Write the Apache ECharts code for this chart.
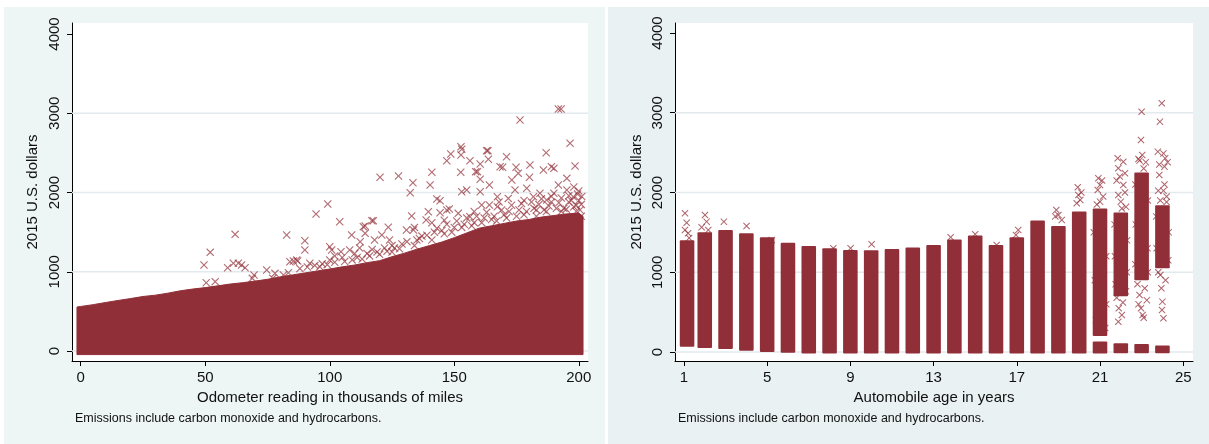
<!DOCTYPE html>
<html>
<head>
<meta charset="utf-8">
<script src="https://cdn.jsdelivr.net/npm/echarts@6/dist/echarts.min.js"></script>
<style>
  html, body { margin: 0; padding: 0; background: #fff; }
  #main { width: 1209px; height: 444px; }
</style>
</head>
<body>
<div id="main"></div>
<script>
// 数据：左图 = 里程，右图 = 车龄
const odometerTicks = [0, 50, 100, 150, 200]
const ageTicks = [1, 5, 9, 13, 17, 21, 25]
const dollarTicks = [0, 1000, 2000, 3000, 4000]
const gridValues = [0, 1000, 2000, 3000]

// 左图密集区的上边缘（千英里, 美元）
const odometerEdge = [-1.5, 0, 5, 10, 15, 20, 25, 30, 35, 40, 45, 50, 55, 60, 65, 70, 75, 80, 85, 90, 95, 100,
  105, 110, 115, 120, 125, 130, 135, 140, 145, 150, 155, 160, 165, 170, 175, 180, 185, 190, 195, 200, 201.7]
const bodyTop = [555, 562, 585, 612, 638, 662, 688, 705, 730, 760, 782, 800, 822, 845, 862, 882, 905, 935, 960, 985, 1010, 1035,
  1062, 1085, 1115, 1140, 1190, 1235, 1285, 1330, 1375, 1430, 1490, 1550, 1580, 1610, 1640, 1660, 1690, 1710, 1730, 1740, 1700]
const bodyFloor = -45

// 左图离群点 [里程, 美元]
const odometerOutliers = [
  [49.5, 1085], [52, 1245], [50.4, 862], [54, 875], [62, 1472], [59, 1051], [61.3, 1107], [63.3, 1107], [64.6, 1085],
  [66, 1051], [69.6, 959], [68.9, 917], [74.7, 1022], [78, 980], [77.1, 917], [82.7, 1464], [81.4, 959], [83.4, 988],
  [85.4, 1136], [87.1, 1136], [84, 1127], [86.7, 1148], [90, 1392], [90, 1274], [94.5, 1729], [99.2, 1855], [104, 1632],
  [100, 1316], [100.8, 1274], [104.5, 1253], [100, 1148], [108.8, 1464], [108, 1274], [112.2, 1379], [114.2, 1577],
  [114.2, 1485], [117.5, 1644], [120.2, 2192], [127.6, 2208], [120.9, 1464], [123.5, 1561], [92, 1107], [96, 1064],
  [105, 1180], [110, 1230], [113, 1160], [116, 1200], [119, 1250], [122, 1300], [125, 1330], [118, 1400], [113.5, 1569],
  [116.9, 1644], [176.4, 2915], [192.9, 3054], [191.8, 3054], [196.5, 2621], [198.5, 2334], [186.9, 2502], [190, 2305],
  [189, 2326], [185.8, 2284], [180.4, 2347], [180.2, 2192], [171, 2452], [169.4, 2318], [174.8, 2318], [175.7, 2242],
  [173.1, 2158], [174.4, 2032], [163.5, 2528], [163.7, 2419], [160.4, 2360], [159.3, 2263], [160.4, 2167], [164.1, 2095],
  [160.4, 2010], [156.3, 2401], [153, 2545], [152.7, 2473], [148.6, 2486], [147, 2401], [152.6, 2255], [153, 2010],
  [155, 2032], [141, 2255], [140.3, 2095], [133.4, 2124], [132.3, 1997], [143, 1918], [144.3, 1897], [148, 1792],
  [151.6, 1737], [156.3, 1695], [161, 1842], [164.1, 1842], [167.3, 1947], [167.3, 1821], [171.7, 1926], [179.1, 2053],
  [181.8, 1947], [184.4, 1990], [187.1, 1905], [190, 1990], [191.8, 2095], [195.2, 2032], [195.2, 2179], [197.8, 1947],
  [132.9, 1703], [139.6, 1758], [144.3, 1745], [138.7, 1653], [141, 1619], [130.8, 1527], [133.6, 1527], [147, 1779],
  [152.7, 2578], [163, 2528], [158.6, 2263], [168.4, 2326], [125, 1250], [128, 1290], [135, 1400], [137, 1450],
  [142, 1500], [146, 1480], [150, 1560], [154, 1600], [158, 1620], [162, 1680], [166, 1700], [170, 1720], [172, 1760],
  [176, 1780], [178, 1720], [182, 1800], [184, 1850], [186, 1780], [188, 1830], [192, 1870], [194, 1800], [196, 1880],
  [198, 1820], [199, 1760], [200, 1900], [201, 1850], [199.5, 1980], [201, 1700], [193, 1760], [183, 1700],
  [88, 1040], [91, 1060], [94, 1080], [97, 1100], [99, 1090], [102, 1120], [106, 1130], [109, 1150], [111, 1180],
  [115, 1230], [117, 1280], [120, 1220], [123, 1260], [126, 1300], [129, 1350], [131, 1380], [134, 1330], [136, 1420],
  [139, 1460], [141, 1400], [143, 1550], [145, 1520], [147, 1600], [149, 1500], [151, 1640], [153, 1560], [155, 1680],
  [157, 1580], [159, 1700], [161, 1620], [163, 1750], [165, 1660], [167, 1640], [169, 1780], [171, 1680], [173, 1840],
  [175, 1700], [177, 1860], [179, 1760], [181, 1880], [183, 1780], [185, 1920], [187, 1760], [189, 1880], [191, 1800],
  [193, 1930], [195, 1790], [197, 1900], [199, 1840], [200.5, 1780], [201.2, 1950], [200, 2020], [198, 2070],
  [196, 1960], [189, 1950], [178, 1900], [168, 1880], [158, 1760], [146, 1650], [134, 1560], [124, 1400], [112, 1300],
  [102, 1200]
]

// 右图每个车龄的密集柱 [车龄, 下沿, 上沿]
const ageColumns = [
  [1.15, 65, 1400], [2, 50, 1500], [3, 38, 1530], [4, 17, 1490], [5, 0, 1440], [6, -10, 1370], [7, -20, 1330],
  [8, -20, 1300], [9, -20, 1280], [10, -20, 1275], [11, -20, 1290], [12, -20, 1310], [13, -20, 1340], [14, -20, 1410],
  [15, -20, 1460], [16, -20, 1340], [17, -20, 1440], [18, -20, 1650], [19, -20, 1580], [20, -20, 1760],
  [21, 200, 1800], [22, 700, 1750], [23, 900, 2250], [24, 1050, 1840]
]
// 右图老车底部的小块
const ageBlobs = [[21, -20, 130], [22, -15, 110], [23, -15, 100], [24, -15, 80]]

// 右图离群点 [车龄, 美元]
const ageOutliers = [
  [1.05, 1739], [1.13, 1621], [1.05, 1530], [1.2, 1488], [1.29, 1238], [1.3, 1100], [1.25, 1430],
  [2.01, 1718], [2.09, 1634], [1.85, 1564], [2.17, 1530], [2.92, 1634], [4.01, 1580], [5.22, 1404],
  [8.18, 1300], [9.01, 1300], [10.02, 1350], [13.82, 1438], [15.0, 1476], [16.03, 1342], [17.07, 1530], [16.96, 1467],
  [18.9, 1781], [19.0, 1718], [19.16, 1655], [18.85, 1700],
  [19.93, 2065], [19.96, 1969], [20.05, 1906], [19.88, 1865], [20.1, 2000],
  [20.92, 2178], [21.0, 2094], [20.89, 2031], [21.0, 1885], [21.1, 2150], [21.15, 1950], [20.85, 1850],
  [20.7, 1500], [21.3, 1200], [20.75, 900], [21.3, 600], [20.8, 400], [21.25, 300], [20.9, 250],
  [21.85, 2429], [22.12, 2386], [21.88, 2303], [22.2, 2241], [22.12, 2094], [21.88, 1969], [22.0, 1885], [22.2, 2000],
  [21.8, 2150], [21.9, 548], [22.05, 464], [21.88, 380], [22.1, 620], [21.8, 680],
  [21.7, 1600], [22.3, 1400], [21.72, 1200], [22.28, 1000], [21.75, 850], [22.25, 760], [21.95, 2200], [22.05, 1800],
  [22.25, 1820],
  [23.0, 3013], [22.97, 2658], [23.03, 2470], [22.85, 2420], [23.2, 2380], [22.9, 715], [22.97, 548], [23.05, 464],
  [23.15, 800], [22.8, 850], [22.7, 2100], [23.3, 1900], [22.72, 1600], [23.28, 1300], [22.7, 1100], [23.3, 1000],
  [22.9, 2400], [23.1, 2300], [23.25, 650], [22.85, 600], [23.1, 430],
  [23.97, 3118], [23.88, 2888], [23.78, 2512], [24.05, 2490], [24.13, 2428], [24.1, 2324], [23.85, 2219], [23.8, 2023],
  [24.05, 2023], [23.9, 965], [23.95, 799], [24.0, 631], [23.98, 527], [24.05, 423], [24.15, 900], [23.8, 1000],
  [24.2, 1950], [23.7, 1700], [24.3, 1500], [23.72, 1300], [24.28, 1150], [23.9, 1900], [24.2, 1880], [24.1, 2100],
  [23.85, 2350], [24.25, 2380], [24.2, 1100]
]

const maroon = '#912f38'
const font = 'Liberation Sans, Arial, sans-serif'
const xMark = 'path://M0,1L1,0L5,4L9,0L10,1L6,5L10,9L9,10L5,6L1,10L0,9L4,5Z'
const noteText = 'Emissions include carbon monoxide and hydrocarbons.'

const chart = echarts.init(document.getElementById('main'))

// 坐标轴公共设置
function makeAxis(gridIndex, min, max, ticks, extra) {
  return Object.assign({
    type: 'value',
    gridIndex,
    min,
    max,
    axisLine: { show: true, onZero: false, lineStyle: { color: '#000', width: 1 } },
    axisTick: { show: true, length: 5, customValues: ticks, lineStyle: { color: '#000' } },
    splitLine: { show: false },
    nameLocation: 'middle',
    nameTextStyle: { color: '#111', fontSize: 15, fontFamily: font }
  }, extra)
}

function labelStyle(ticks, extra) {
  return Object.assign({
    customValues: ticks,
    formatter: v => String(v),
    color: '#111',
    fontSize: 15,
    fontFamily: font
  }, extra)
}

// 网格线
function gridLineSeries(idx) {
  return {
    type: 'custom',
    xAxisIndex: idx,
    yAxisIndex: idx,
    z: 1,
    silent: true,
    data: gridValues.map(v => [0, v]),
    renderItem: (params, api) => {
      const cs = params.coordSys
      const y = api.coord([api.value(0), api.value(1)])[1]
      return {
        type: 'line',
        shape: { x1: cs.x, y1: y, x2: cs.x + cs.width, y2: y },
        style: { stroke: '#e2eaee', lineWidth: 1.5 }
      }
    }
  }
}

const option = {
  animation: false,
  graphic: [
    { type: 'rect', shape: { x: 4, y: 7, width: 601, height: 437 }, style: { fill: '#eef6f5' }, z: -10 },
    { type: 'rect', shape: { x: 608, y: 7, width: 601, height: 437 }, style: { fill: '#e9f1f3' }, z: -10 },
    { type: 'text', left: 75, top: 412, style: { text: noteText, fontSize: 12.5, fontFamily: font, fill: '#111' } },
    { type: 'text', left: 678, top: 412, style: { text: noteText, fontSize: 12.5, fontFamily: font, fill: '#111' } }
  ],
  grid: [
    { left: 72, top: 23, width: 516, height: 338, show: true, backgroundColor: '#fff', borderWidth: 0 },
    { left: 675, top: 23, width: 518, height: 338, show: true, backgroundColor: '#fff', borderWidth: 0 }
  ],
  xAxis: [
    makeAxis(0, -3.5, 203.7, odometerTicks, {
      name: 'Odometer reading in thousands of miles',
      nameGap: 26,
      axisLabel: labelStyle(odometerTicks, { margin: 9 })
    }),
    makeAxis(1, 0.57, 25.47, ageTicks, {
      name: 'Automobile age in years',
      nameGap: 26,
      axisLabel: labelStyle(ageTicks, { margin: 9 })
    })
  ],
  yAxis: [
    makeAxis(0, -126, 4139, dollarTicks, {
      name: '2015 U.S. dollars',
      nameGap: 32,
      axisLabel: labelStyle(dollarTicks, { rotate: 90, margin: 10 })
    }),
    makeAxis(1, -113, 4125, dollarTicks, {
      name: '2015 U.S. dollars',
      nameGap: 31,
      axisLabel: labelStyle(dollarTicks, { rotate: 90, margin: 10 })
    })
  ],
  series: [
    gridLineSeries(0),
    gridLineSeries(1),
    // 左图密集区
    {
      type: 'custom',
      xAxisIndex: 0,
      yAxisIndex: 0,
      z: 2,
      silent: true,
      data: odometerEdge.map((x, i) => [x, bodyTop[i]]),
      renderItem: (params, api) => {
        if (params.dataIndex !== 0) return
        const pts = odometerEdge.map((x, i) => api.coord([x, bodyTop[i]]))
        pts.push(api.coord([odometerEdge[odometerEdge.length - 1], bodyFloor]))
        pts.push(api.coord([odometerEdge[0], bodyFloor]))
        return { type: 'polygon', shape: { points: pts }, style: { fill: maroon, stroke: maroon, lineWidth: 1 } }
      }
    },
    {
      type: 'scatter',
      xAxisIndex: 0,
      yAxisIndex: 0,
      z: 3,
      symbol: xMark,
      symbolSize: 8,
      itemStyle: { color: maroon, opacity: 0.7 },
      data: odometerOutliers
    },
    // 右图柱状密集区
    {
      type: 'custom',
      xAxisIndex: 1,
      yAxisIndex: 1,
      z: 2,
      silent: true,
      data: ageColumns.concat(ageBlobs),
      renderItem: (params, api) => {
        const half = 0.35
        const p1 = api.coord([api.value(0) - half, api.value(2)])
        const p2 = api.coord([api.value(0) + half, api.value(1)])
        return {
          type: 'rect',
          shape: { x: p1[0], y: p1[1], width: p2[0] - p1[0], height: p2[1] - p1[1], r: 1 },
          style: { fill: maroon }
        }
      }
    },
    {
      type: 'scatter',
      xAxisIndex: 1,
      yAxisIndex: 1,
      z: 3,
      symbol: xMark,
      symbolSize: 7,
      itemStyle: { color: maroon, opacity: 0.75 },
      data: ageOutliers
    }
  ]
}

chart.setOption(option)
</script>
</body>
</html>
